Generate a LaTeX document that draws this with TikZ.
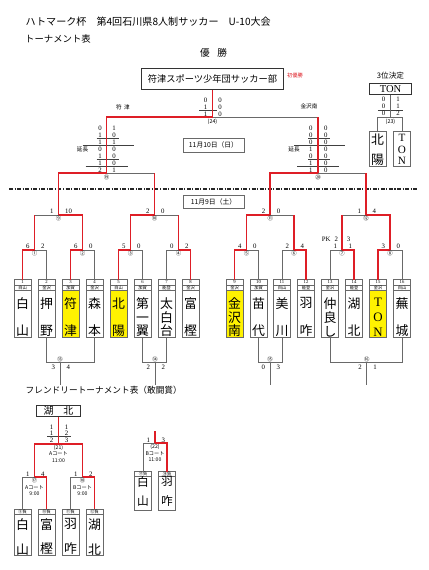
\documentclass[tikz,border=0pt]{standalone}
\usepackage{fontspec}
\setmainfont{Liberation Serif}
\newfontfamily\jp{Noto Sans CJK JP}
\usetikzlibrary{positioning,calc}
\definecolor{winred}{RGB}{222,30,38}
\definecolor{linegray}{RGB}{105,105,105}
\newcommand\vname[4]{\parbox[c][#1][s]{0.5cm}{\centering\vspace*{#2}#4\par\vspace*{#3}}}

\begin{document}
\begin{tikzpicture}[
 x=0.03cm, y=-0.03cm,
 win/.style={draw=winred, line width=1.4pt},
 lose/.style={draw=linegray, line width=0.6pt},
 rule/.style={draw=black!75, line width=0.45pt},
 score/.style={font=\fontsize{5.8}{6}\selectfont, inner sep=0pt},
 mno/.style={font=\jp\fontsize{4.6}{5}\selectfont, inner sep=0pt},
 court/.style={font=\jp\fontsize{4.4}{5.6}\selectfont, inner sep=0pt, align=center},
 tiny/.style={font=\jp\fontsize{4.8}{5}\selectfont, inner sep=0pt},
 numrow/.style={draw=linegray, line width=0.45pt, minimum width=0.51cm, minimum height=0.165cm, inner sep=0pt, outer sep=0pt, font=\fontsize{4}{4}\selectfont},
 regrow/.style={numrow, font=\jp\fontsize{3.6}{3.6}\selectfont},
 team/.style={draw=linegray, line width=0.45pt, minimum width=0.51cm, inner sep=0pt, outer sep=0pt, font=\jp\fontsize{11}{11}\selectfont},
 datebox/.style={draw=linegray, line width=0.5pt, minimum width=1.83cm, minimum height=0.41cm, inner sep=0pt, font=\jp\fontsize{5.8}{6}\selectfont},
 namebox/.style={draw=black!80, line width=0.6pt, inner sep=0pt}
]
\path[use as bounding box, fill=white] (0,0) rectangle (429,570);

% headings
\node[anchor=west, inner sep=0pt, font=\jp\fontsize{8.6}{9}\selectfont] (title) at (25.5,21.5) {ハトマーク杯　第4回石川県8人制サッカー　U-10大会};
\node[anchor=west, inner sep=0pt, font=\jp\fontsize{8}{9}\selectfont] (sub) at (25,39.3) {トーナメント表};
\node[inner sep=0pt, font=\jp\fontsize{8.2}{9}\selectfont] (yusho) at (213.5,53.3) {優\hspace{0.8em}勝};
\node[namebox, minimum width=4.25cm, minimum height=0.63cm, font=\jp\fontsize{7.9}{8}\selectfont] (champ) at (212.5,78.8) {符津スポーツ少年団サッカー部};
\node[inner sep=0pt, text=winred, font=\jp\fontsize{4.5}{5}\selectfont] (first) at (295,75.5) {初優勝};
\node[inner sep=0pt, font=\jp\fontsize{6.5}{7}\selectfont] (third-title) at (390.5,76) {3位決定};
\node[namebox, minimum width=1.27cm, minimum height=0.33cm, font=\fontsize{9}{9}\selectfont] (third) at (390.5,88.8) {TON};

% teams
\foreach \i/\x/\reg/\nm/\col in {
 1/22.5/白山/{白\vfill 山}/white,
 2/46.5/金沢/{押\vfill 野}/white,
 3/70.5/加賀/{符\vfill 津}/yellow,
 4/94.5/金沢/{森\vfill 本}/white,
 5/118.5/白山/{北\vfill 陽}/yellow,
 6/142.5/加賀/{第\vfill 一\vfill 翼}/white,
 7/166.5/能登/{太\vfill 白\vfill 台}/white,
 8/190.5/金沢/{富\vfill 樫}/white,
 9/234.5/金沢/{金\vfill 沢\vfill 南}/yellow,
 10/258.5/加賀/{苗\vfill 代}/white,
 11/282/白山/{美\vfill 川}/white,
 12/306/能登/{羽\vfill 咋}/white,
 13/330/金沢/{仲\vfill 良\vfill し}/white,
 14/354/能登/{湖\vfill 北}/white,
 15/378/金沢/{{\rmfamily T\vfill O\vfill N}}/yellow,
 16/402/白山/{蕪\vfill 城}/white}
{
 \node[numrow, anchor=north] (h\i) at (\x,279.5) {\i};
 \node[regrow, below=0pt of h\i] (r\i) {\reg};
 \node[team, fill=\col, below=0pt of r\i] (t\i) {\vname{1.41cm}{0.22cm}{0.02cm}{\nm}};
}
\node[team, anchor=north] (b1) at (377.5,131) {\vname{1.05cm}{0.075cm}{0cm}{北\vfill 陽}};
\node[team, anchor=north] (b2) at (402,131) {\vname{1.05cm}{0.11cm}{0.05cm}{\rmfamily\fontsize{9.5}{9.5}\selectfont T\vfill O\vfill N}};

% dates
\node[datebox] (d10) at (213.5,145.3) {11月10日（日）};
\node[datebox] (d9) at (213.5,201.7) {11月9日（土）};
\draw[black!85, line width=1pt, dash pattern=on 3.4pt off 1.3pt on 0.9pt off 1.3pt] (9,189) -- (417,189);

% junctions
\coordinate (m1) at (34.5,250);
\coordinate (m2) at (82.5,250);
\coordinate (m3) at (130.5,250);
\coordinate (m4) at (178.5,250);
\coordinate (m5) at (246.5,250);
\coordinate (m6) at (294,250);
\coordinate (m7) at (342,250);
\coordinate (m8) at (390,250);
\coordinate (m9) at (58.5,215);
\coordinate (m10) at (154.5,215);
\coordinate (m11) at (270.25,215);
\coordinate (m12) at (366,215);
\coordinate (m19) at (106.5,173);
\coordinate (m20) at (318,173);
\coordinate (m24) at (212.5,117);
\coordinate (m23) at (390.5,117);
\coordinate (m13) at (60,362.5);
\coordinate (m14) at (155,362.5);
\coordinate (m15) at (270,362.5);
\coordinate (m16) at (366.7,362.5);
\coordinate (e13) at (60,384.5);
\coordinate (e14) at (155,384.5);
\coordinate (e15) at (270,384.5);
\coordinate (e16) at (366.7,384.5);

% score tables of the semi finals
\foreach \j [count=\s] in {106.5,318}{
 \draw[rule] (\j-10,138.7) -- (\j+12,138.7);
 \draw[rule] (\j-24,145.6) -- (\j+27,145.6);
 \draw[rule] (\j-10,159.5) -- (\j+12,159.5);
 \draw[rule] (\j-21,166.5) -- (\j+21,166.5);
 \node[tiny] (ext\s) at (\j-24,149.2) {延長};
}
\foreach \a/\b [count=\k] in {0/1,1/0,1/1,0/0,1/0,1/0,2/1}{
 \node[score] (sa\k) at (100,{121.35+\k*6.95}) {\a};
 \node[score] (sb\k) at (114,{121.35+\k*6.95}) {\b};
}
\foreach \a/\b [count=\k] in {0/0,0/0,0/0,1/0,0/0,1/0,1/0}{
 \node[score] (sc\k) at (310.8,{121.35+\k*6.95}) {\a};
 \node[score] (sd\k) at (325.8,{121.35+\k*6.95}) {\b};
}
\draw[rule] (199,110.5) -- (217,110.5);
\foreach \a/\b [count=\k] in {0/0,1/0,1/0}{
 \node[score] (fa\k) at (205.5,{93+\k*7}) {\a};
 \node[score] (fb\k) at (220,{93+\k*7}) {\b};
}
\draw[rule] (378,110.5) -- (402.5,110.5);
\foreach \a/\b [count=\k] in {0/1,0/1,0/2}{
 \node[score] (ta\k) at (383.5,{92.3+\k*7}) {\a};
 \node[score] (tb\k) at (398,{92.3+\k*7}) {\b};
}
\node[tiny] (lab19) at (123,107) {符\hspace{2pt}津};
\node[tiny] (lab20) at (309,106.7) {金沢南};

% losing sides
\draw[lose] (h2.north) |- (m1);
\draw[lose] (h4.north) |- (m2);
\draw[lose] (h6.north) |- (m3);
\draw[lose] (h7.north) |- (m4);
\draw[lose] (h10.north) |- (m5);
\draw[lose] (h11.north) |- (m6);
\draw[lose] (h13.north) |- (m7);
\draw[lose] (h16.north) |- (m8);
\draw[lose] (m1 |- m9) -- (m9);
\draw[lose] (m4 |- m10) -- (m10);
\draw[lose] (m6 |- m11) -- (m11);
\draw[lose] (m7 |- m12) -- (m12);
\draw[lose] (m10 |- m19) -- (m19);
\draw[lose] (m12 |- m20) -- (m20);
\draw[lose] (m20 |- m24) -- (m24);
\draw[lose] (third) -- (m23);
\draw[lose] (b1.north) |- (m23);
\draw[lose] (b2.north) |- (m23);
\draw[lose] (t2.south) |- (m13);
\draw[lose] (t4.south) |- (m13);
\draw[lose] (m13) -- (e13);
\draw[lose] (t6.south) |- (m14);
\draw[lose] (t7.south) |- (m14);
\draw[lose] (m14) -- (e14);
\draw[lose] (t10.south) |- (m15);
\draw[lose] (t11.south) |- (m15);
\draw[lose] (m15) -- (e15);
\draw[lose] (t13.south) |- (m16);
\draw[lose] (t16.south) |- (m16);
\draw[lose] (m16) -- (e16);

% winning sides
\draw[win] (h1.north) |- (m1);
\draw[win] (h3.north) |- (m2);
\draw[win] (h5.north) |- (m3);
\draw[win] (h8.north) |- (m4);
\draw[win] (h9.north) |- (m5);
\draw[win] (h12.north) |- (m6);
\draw[win] (h14.north) |- (m7);
\draw[win] (h15.north) |- (m8);
\draw[win] (m1) -- (m1 |- m9);
\draw[win] (m2) |- (m9);
\draw[win] (m3) |- (m10);
\draw[win] (m4) -- (m4 |- m10);
\draw[win] (m5) |- (m11);
\draw[win] (m6) -- (m6 |- m11);
\draw[win] (m7) -- (m7 |- m12);
\draw[win] (m8) |- (m12);
\draw[win] (m9) |- (m19);
\draw[win] (m10) -- (m10 |- m19);
\draw[win] (m11) |- (m20);
\draw[win] (m12) -- (m12 |- m20);
\draw[win] (m19) |- (m24);
\draw[win] (m20) -- (m20 |- m24);
\draw[win] (m24) -- (champ);

% scores and match numbers
\foreach \m/\a/\b in {m1/6/2, m2/6/0, m3/5/0, m4/0/2, m5/4/0, m6/2/4, m7/1/1, m8/3/0, m9/1/10, m10/2/0, m11/2/0, m12/1/4}{
 \node[score, anchor=east] (\m-a) at ($(\m)+(-4.8,-3.9)$) {\a};
 \node[score, anchor=west] (\m-b) at ($(\m)+(6.5,-3.9)$) {\b};
}
\node[score, anchor=east] (pk-a) at ($(m7)+(-3.8,-10.5)$) {PK\hspace{3.5pt}2};
\node[score, anchor=west] (pk-b) at ($(m7)+(4.6,-10.5)$) {3};
\foreach \m/\n in {m1/①, m2/②, m3/③, m4/④, m5/⑤, m6/⑥, m7/⑦, m8/⑧, m9/⑨, m10/⑩, m11/⑪, m12/⑫}{
 \node[mno, below=0.6pt of \m] (\m-no) {\n};
}
\node[mno, below=1.6pt of m19] (m19-no) {⑲};
\node[mno, below=1.6pt of m20] (m20-no) {⑳};
\node[mno, below=1.2pt of m24] (m24-no) {(24)};
\node[mno, below=1.2pt of m23] (m23-no) {(23)};
\foreach \m/\n/\a/\b in {m13/⑬/3/4, m14/⑭/2/2, m15/⑮/0/3, m16/⑯/2/1}{
 \node[mno, above=0.6pt of \m] (\m-no) {\n};
 \node[score, anchor=east] (\m-a) at ($(\m)+(-4.8,4.3)$) {\a};
 \node[score, anchor=west] (\m-b) at ($(\m)+(6.5,4.3)$) {\b};
}

% friendly tournament
\node[anchor=west, inner sep=0pt, font=\jp\fontsize{7.4}{8}\selectfont] (ftitle) at (25.5,390.7) {フレンドリートーナメント表（敢闘賞）};
\node[namebox, minimum width=1.3cm, minimum height=0.35cm, font=\jp\fontsize{8.5}{9}\selectfont] (fwin) at (58.5,410.8) {湖　北};
\coordinate (m21) at (58.5,444);
\coordinate (m17) at (34.5,477.3);
\coordinate (m18) at (82.5,477.3);
\coordinate (m22) at (155,443.3);
\coordinate (e22) at (155,431);
\foreach \i/\x/\lab/\nm in {1/22.5/⑨負/{白\vfill 山}, 2/46.5/⑩負/{富\vfill 樫}, 3/70.5/⑪負/{羽\vfill 咋}, 4/94.5/⑫負/{湖\vfill 北}}{
 \node[regrow, anchor=north] (fh\i) at (\x,509) {\lab};
 \node[team, below=0pt of fh\i] (ft\i) {\vname{1.215cm}{0.12cm}{0cm}{\nm}};
}
\foreach \i/\x/\lab/\nm in {1/143/⑰負/{白\vfill 山}, 2/167/⑱負/{羽\vfill 咋}}{
 \node[regrow, minimum height=0.14cm, anchor=north] (gh\i) at (\x,471.7) {\lab};
 \node[team, font=\jp\fontsize{10}{10}\selectfont, below=0pt of gh\i] (gt\i) {\vname{1.01cm}{0.01cm}{0.12cm}{\nm}};
}
\draw[rule] (47,436.5) -- (71,436.5);
\foreach \a/\b/\yy [count=\k] in {1/1/426.8, 1/2/432.8, 2/3/439.8}{
 \node[score] (ka\k) at (51.5,\yy) {\a};
 \node[score] (kb\k) at (66.5,\yy) {\b};
}
\draw[lose] (fh1.north) |- (m17);
\draw[lose] (fh3.north) |- (m18);
\draw[lose] (gh1.north) |- (m22);
\draw[win] (fh2.north) |- (m17);
\draw[win] (fh4.north) |- (m18);
\draw[win] (m17) |- (m21);
\draw[win] (m18) |- (m21);
\draw[win] (m21) -- (fwin);
\draw[win] (gh2.north) |- (m22);
\draw[win] (m22) -- (e22);
\foreach \m/\a/\b in {m17/1/4, m18/1/2, m22/1/3}{
 \node[score, anchor=east] (\m-a) at ($(\m)+(-4.8,-3.5)$) {\a};
 \node[score, anchor=west] (\m-b) at ($(\m)+(6.5,-3.5)$) {\b};
}
\node[court, below=0.6pt of m21] (m21-no) {(21)\\Aコート\\11:00};
\node[court, below=0.6pt of m17] (m17-no) {⑰\\Aコート\\9:00};
\node[court, below=0.6pt of m18] (m18-no) {⑱\\Bコート\\9:00};
\node[court, below=0.6pt of m22] (m22-no) {(22)\\Bコート\\11:00};
\end{tikzpicture}
\end{document}
